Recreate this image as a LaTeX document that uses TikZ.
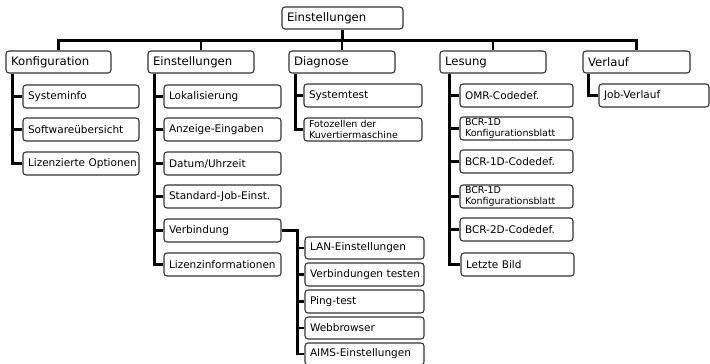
\documentclass[tikz,border=0pt]{standalone}
\usepackage{fontspec}
\setmainfont{DejaVu Sans}
\usetikzlibrary{calc}
\definecolor{bord}{HTML}{333333}
\tikzset{
  box/.style={draw=bord, line width=1.1pt, rounded corners=3pt, fill=white, inner xsep=5pt, inner ysep=0pt, align=left, text=black},
  conn/.style={draw=black, line width=2.4pt},
  big/.style={font=\fontsize{11.7}{13}\selectfont},
  mid/.style={font=\fontsize{10.5}{12}\selectfont},
  sml/.style={font=\fontsize{9.5}{10.4}\selectfont},
}
\newcommand\bx[7]{%
  \pgfmathsetmacro\bw{#4-#2}\pgfmathsetmacro\bh{#5-#3}\pgfmathsetmacro\tw{#4-#2-10}%
  \node[box,#7,minimum width=\bw pt,minimum height=\bh pt,text width=\tw pt] (#1) at ({(#2+#4)/2},{(#3+#5)/2}) {#6};}
\begin{document}
\begin{tikzpicture}[x=1pt,y=-1pt]
\useasboundingbox (0,0) rectangle (710,364);
\begin{scope}
\bx{root}{282}{7}{403}{29}{Einstellungen}{big}
\bx{konf}{6}{51}{111}{73}{Konfiguration}{big}
\bx{einst}{148}{51}{254}{73}{Einstellungen}{big}
\bx{diag}{289}{51}{395}{73}{Diagnose}{big}
\bx{les}{440}{51}{546}{73}{Lesung}{big}
\bx{verl}{583}{51}{690}{73}{Verlauf}{big}
% Konfiguration
\bx{sys}{23}{85}{139}{108}{Systeminfo}{mid}
\bx{soft}{23}{118}{139}{141}{Softwareübersicht}{mid}
\bx{liz}{23}{152}{139}{175}{\mbox{Lizenzierte Optionen}}{mid,inner xsep=4pt}
% Einstellungen
\bx{lok}{164}{85}{281}{108}{Lokalisierung}{mid}
\bx{anz}{164}{118}{281}{141}{Anzeige-Eingaben}{mid}
\bx{dat}{164}{152}{281}{175}{Datum/Uhrzeit}{mid}
\bx{std}{164}{185}{281}{208}{Standard-Job-Einst.}{mid}
\bx{verb}{164}{219}{281}{242}{Verbindung}{mid}
\bx{lizi}{164}{253}{281}{276}{\mbox{Lizenzinformationen}}{mid,inner xsep=4pt}
% Verbindung
\bx{lan}{305}{237}{424}{259}{LAN-Einstellungen}{mid}
\bx{vtest}{305}{263}{424}{286}{\mbox{Verbindungen testen}}{mid,inner xsep=2pt}
\bx{ping}{305}{290}{424}{313}{Ping-test}{mid}
\bx{web}{305}{317}{424}{339}{Webbrowser}{mid}
\bx{aims}{305}{343}{424}{365}{AIMS-Einstellungen}{mid}
% Diagnose
\bx{stest}{304}{84}{422}{107}{Systemtest}{mid}
\bx{foto}{304}{118}{422}{141}{Fotozellen der\\Kuvertiermaschine}{sml,inner xsep=3pt}
% Lesung
\bx{omr}{460}{84}{573}{107}{OMR-Codedef.}{mid}
\bx{bka}{460}{117}{573}{140}{BCR-1D\\Konfigurationsblatt}{sml,inner xsep=3pt}
\bx{bcd}{460}{150}{573}{173}{BCR-1D-Codedef.}{mid}
\bx{bkb}{460}{185}{573}{208}{BCR-1D\\Konfigurationsblatt}{sml,inner xsep=3pt}
\bx{b2d}{460}{218}{573}{241}{BCR-2D-Codedef.}{mid}
\bx{letzt}{461}{253}{574}{276}{Letzte Bild}{mid}
% Verlauf
\bx{job}{599}{84}{709}{107}{Job-Verlauf}{mid}
\end{scope}
% connectors
\foreach \k in {konf,einst,diag,les,verl}
  \draw[conn] (root.south) -- ++(0,11) -| (\k.north);
\draw[conn] ($(konf.south west)+(7,0)$) |- (liz.west);
\foreach \c in {sys,soft} \draw[conn] ($(konf.south west)+(7,0)$) |- (\c.west);
\draw[conn] ($(einst.south west)+(7,0)$) |- (lizi.west);
\foreach \c in {lok,anz,dat,std,verb} \draw[conn] ($(einst.south west)+(7,0)$) |- (\c.west);
\draw[conn] (verb.east) -- ++(16,0) |- (aims.west);
\foreach \c in {lan,vtest,ping,web} \draw[conn] ($(verb.east)+(16,0)$) |- (\c.west);
\draw[conn] ($(diag.south west)+(7,0)$) |- (foto.west);
\draw[conn] ($(diag.south west)+(7,0)$) |- (stest.west);
\draw[conn] ($(les.south west)+(10,0)$) |- (letzt.west);
\foreach \c in {omr,bka,bcd,bkb,b2d} \draw[conn] ($(les.south west)+(10,0)$) |- (\c.west);
\draw[conn] ($(verl.south west)+(6,0)$) |- (job.west);
\end{tikzpicture}
\end{document}
